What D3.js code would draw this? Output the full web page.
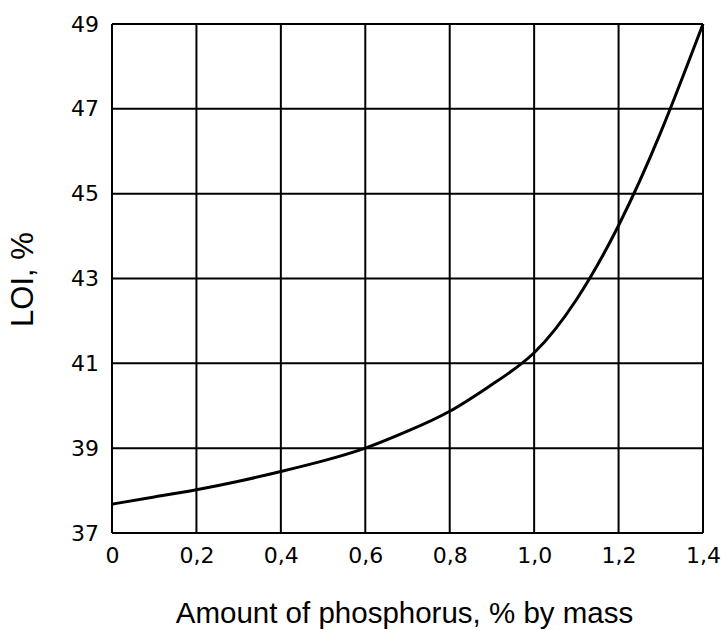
<!DOCTYPE html>
<html>
<head>
<meta charset="utf-8">
<script src="https://cdn.jsdelivr.net/npm/d3@7"></script>
<style>
  body { margin: 0; background: #fff; }
</style>
</head>
<body>
<div id="chart"></div>
<script>
// values
var phosphorus = [0, 0.1, 0.2, 0.3, 0.4, 0.5, 0.6, 0.7, 0.8, 0.9, 1.0, 1.1, 1.2, 1.3, 1.4];
var loi = [37.68, 37.85, 38.02, 38.22, 38.45, 38.70, 39.0, 39.40, 39.87, 40.5, 41.25, 42.5, 44.25, 46.45, 49.0];

var xTicks = [0, 0.2, 0.4, 0.6, 0.8, 1.0, 1.2, 1.4];
var xTickLabels = ["0", "0,2", "0,4", "0,6", "0,8", "1,0", "1,2", "1,4"];
var yTicks = [37, 39, 41, 43, 45, 47, 49];

var w = 721, h = 630;
var margin = {top: 24, right: 18, bottom: 97, left: 112},
    width = w - margin.left - margin.right,
    height = h - margin.top - margin.bottom;

var svg = d3.select("#chart")
    .append("svg")
    .attr("width", w)
    .attr("height", h)
    .append("g")
    .attr("transform", "translate(" + margin.left + "," + margin.top + ")");

var x = d3.scaleLinear().domain([0, 1.4]).range([0, width]);
var y = d3.scaleLinear().domain([37, 49]).range([height, 0]);

// grid
svg.append("g")
    .selectAll("line")
    .data(xTicks)
    .enter()
    .append("line")
    .attr("x1", function(d) { return x(d); })
    .attr("x2", function(d) { return x(d); })
    .attr("y1", 0)
    .attr("y2", height)
    .attr("stroke", "#000")
    .attr("stroke-width", 2);

svg.append("g")
    .selectAll("line")
    .data(yTicks)
    .enter()
    .append("line")
    .attr("x1", 0)
    .attr("x2", width)
    .attr("y1", function(d) { return y(d); })
    .attr("y2", function(d) { return y(d); })
    .attr("stroke", "#000")
    .attr("stroke-width", 2);

// axes (labels only)
var xAxis = svg.append("g")
    .attr("transform", "translate(0," + height + ")")
    .call(d3.axisBottom(x).tickValues(xTicks).tickSize(0).tickPadding(14)
        .tickFormat(function(d, i) { return xTickLabels[i]; }));

var yAxis = svg.append("g")
    .call(d3.axisLeft(y).tickValues(yTicks).tickSize(0).tickPadding(13));

[xAxis, yAxis].forEach(function(a) {
    a.select(".domain").remove();
    a.selectAll("text")
        .attr("fill", "#000")
        .style("font-family", "'DejaVu Sans', sans-serif")
        .style("font-size", "22px");
});

// curve
var pts = phosphorus.map(function(d, i) { return [d, loi[i]]; });
svg.append("path")
    .datum(pts)
    .attr("fill", "none")
    .attr("stroke", "#000")
    .attr("stroke-width", 3)
    .attr("d", d3.line()
        .x(function(d) { return x(d[0]); })
        .y(function(d) { return y(d[1]); })
        .curve(d3.curveNatural));

// titles
svg.append("text")
    .attr("x", width / 2 - 3)
    .attr("y", height + 90)
    .attr("text-anchor", "middle")
    .style("font-family", "'Liberation Sans', Arial, sans-serif")
    .style("font-size", "29.5px")
    .text("Amount of phosphorus, % by mass");

svg.append("text")
    .attr("transform", "rotate(-90)")
    .attr("x", -255.5)
    .attr("y", -79)
    .attr("text-anchor", "middle")
    .style("font-family", "'Liberation Sans', Arial, sans-serif")
    .style("font-size", "31px")
    .text("LOI, %");
</script>
</body>
</html>
